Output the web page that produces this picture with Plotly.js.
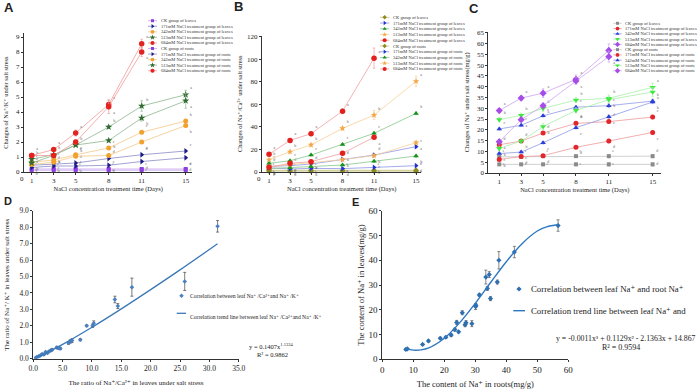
<!DOCTYPE html>
<html><head><meta charset="utf-8">
<script src="https://cdn.plot.ly/plotly-3.0.1.min.js"></script>
<style>html,body{margin:0;padding:0;background:#fff}</style>
</head><body><div id="chart" style="width:700px;height:389px"></div>
<script>
// ---------- data ----------
const days = [1, 3, 5, 8, 11, 15];
const days684 = [1, 3, 5, 8, 11];
const dayTicks = [1, 3, 5, 8, 11, 15];

const legendLabels = [
  'CK group of leaves', '171mM NaCl treatment group of leaves', '342mM NaCl treatment group of leaves',
  '513mM NaCl treatment group of leaves', '684mM NaCl treatment group of leaves',
  'CK group of roots', '171mM NaCl treatment group of roots', '342mM NaCl treatment group of roots',
  '513mM NaCl treatment group of roots', '684mM NaCl treatment group of roots'
];

// significance letters
const sigCK = ['e', 'e', 'e', 'e', 'e', 'd'];
const sig171 = ['d', 'd', 'd', 'd', 'd', 'c'];
const sig342 = ['c', 'c', 'c', 'c', 'c', 'b'];
const sig513 = ['b', 'b', 'b', 'b', 'b', 'a'];
const sig684 = ['a', 'a', 'a', 'a', 'a'];

// Panel A: Na+/K+
const aLeafCK = [0.2, 0.2, 0.2, 0.2, 0.2, 0.2];
const aLeaf171 = [0.45, 0.55, 0.6, 0.9, 1.15, 1.4];
const aLeaf342 = [0.65, 0.8, 1.15, 1.6, 2.65, 3.4];
const aLeaf513 = [0.85, 1.15, 1.8, 3.0, 4.4, 5.15];
const aLeaf684 = [1.1, 1.5, 2.6, 4.5, 8.55];
const aRootCK = [0.12, 0.12, 0.12, 0.12, 0.12, 0.12];
const aRoot171 = [0.3, 0.4, 0.4, 0.45, 0.7, 0.95];
const aRoot342 = [0.5, 0.65, 1.05, 1.1, 2.0, 3.1];
const aRoot513 = [0.6, 1.1, 1.8, 2.1, 3.6, 4.75];
const aRoot684 = [1.1, 1.1, 2.0, 4.35, 8.0];
const aErrSmall = [0.04, 0.04, 0.05, 0.05, 0.06, 0.06];
const aErrLeaf513 = [0.05, 0.08, 0.1, 0.1, 0.35, 0.3];
const aErrRoot513 = [0.05, 0.05, 0.1, 0.1, 0.2, 0.5];
const aErrLeaf684 = [0.08, 0.08, 0.2, 0.3, 0.3];
const aErrRoot684 = [0.08, 0.08, 0.15, 0.45, 0.3];

// Panel B: Na+/Ca2+
const bLeafCK = [1.5, 1.5, 1.5, 1.5, 1.5, 1.5];
const bLeaf171 = [5, 5.6, 7.1, 11.2, 15, 22.5];
const bLeaf342 = [7.7, 10, 15, 24.5, 34.3, 52];
const bLeaf513 = [10.9, 18, 24, 38.7, 50.5, 80.5];
const bLeaf684 = [15.7, 28, 34, 54, 101];
const bRootCK = [0.8, 0.8, 0.8, 0.8, 0.8, 0.8];
const bRoot171 = [3.8, 2.7, 3.2, 3, 4.1, 5.6];
const bRoot342 = [3, 3.8, 4.7, 6.2, 9.5, 14.2];
const bRoot513 = [4.7, 6.5, 8.6, 11, 14.5, 26];
const bRoot684 = [4.2, 7.7, 9.2, 16.6, 30.8];
const bErrSmall = [0.6, 0.6, 0.8, 0.8, 1, 1.2];
const bErrLeaf513 = [1, 1.5, 1.5, 1.5, 4, 4.5];
const bErrLeaf684 = [1, 1, 1.5, 2, 9];
const bErrRoot684 = [0.8, 0.8, 1, 1.2, 1.5];

// Panel C: Na+ content (mg/g)
const cLeafCK = [7.5, 7.5, 7.8, 7.8, 7.8, 7.8];
const cLeaf171 = [13.1, 14.8, 18.5, 23, 23.8, 25.9];
const cLeaf342 = [20.4, 22.1, 26.5, 30.5, 31.2, 33.3];
const cLeaf513 = [24.7, 26.7, 29.9, 33.8, 34.6, 39.7];
const cLeaf684 = [28.9, 34.7, 37, 43.4, 56.8];
const cRootCK = [4, 4, 4, 4, 4, 4];
const cRoot171 = [6.3, 7.6, 8, 11.9, 14.8, 18.8];
const cRoot342 = [9, 9.7, 14, 21, 26, 32.9];
const cRoot513 = [11.4, 14.8, 21.5, 29, 34, 37.5];
const cRoot684 = [14.5, 24.7, 31.2, 42.6, 53.9];
const cErrSmall = [0.5, 0.5, 0.6, 0.6, 0.8, 0.8];
const cErrMid = [1, 1, 1.5, 1.2, 1.5, 2];
const cErrLeaf684 = [1, 1, 2, 2, 3];
const cErrRoot684 = [1, 1, 1, 1.5, 2.5];

// Panel D: leaf Na+/Ca2+ vs Na+/K+
const dX = [0.4, 0.6, 0.9, 1.2, 1.5, 1.8, 2.1, 2.4, 2.7, 3.0, 3.2, 4.0, 4.3, 4.6, 6.0, 6.3, 6.6, 8.0, 9.1, 10.1, 10.3, 13.9, 14.4, 16.8, 25.8, 31.4];
const dY = [0.05, 0.1, 0.14, 0.2, 0.28, 0.25, 0.4, 0.35, 0.45, 0.5, 0.55, 0.68, 0.65, 0.62, 0.95, 1.05, 1.1, 1.15, 2.0, 2.0, 2.15, 3.6, 3.2, 4.35, 4.7, 8.05];
const dErr = [0.02, 0.02, 0.03, 0.03, 0.04, 0.04, 0.05, 0.05, 0.05, 0.06, 0.06, 0.07, 0.07, 0.07, 0.08, 0.1, 0.12, 0.06, 0.05, 0.1, 0.15, 0.2, 0.15, 0.55, 0.55, 0.35];
const dTrendX = [0.5, 2, 5, 10, 15, 20, 25, 31.4];
const dTrendY = [0.06, 0.31, 0.87, 1.91, 3.03, 4.2, 5.4, 6.99];

// Panel E: root Na+ vs leaf Na+
const eX = [7.6, 8.1, 13.0, 14.9, 18.7, 20.5, 22.2, 23.4, 24.0, 24.6, 25.8, 26.7, 27.0, 28.9, 30.1, 30.2, 31.3, 33.4, 33.9, 34.5, 34.9, 37.1, 37.6, 42.6, 56.7];
const eY = [4.0, 4.2, 6.0, 7.4, 8.5, 8.9, 9.8, 12.0, 14.9, 11.1, 18.8, 13.9, 14.8, 14.4, 21.3, 21.8, 26.0, 33.2, 28.6, 34.2, 24.5, 31.2, 40.0, 43.3, 54.0];
const eErr = [0.3, 0.3, 0.3, 0.4, 0.4, 0.4, 0.5, 0.6, 0.8, 0.4, 0.8, 0.7, 0.8, 1.2, 1.2, 0.6, 0.6, 2.8, 0.8, 1.2, 0.8, 0.8, 3.5, 2.3, 2.3];
const eTrendX = [7.5, 10, 12.5, 15, 20, 25, 30, 35, 40, 45, 50, 53, 56.7];
const eTrendY = [4.4, 3.7, 3.8, 4.6, 8.5, 14.8, 22.6, 31.1, 39.4, 46.6, 51.8, 53.5, 54.3];

// ---------- styles ----------
const W = 700, H = 389;
const SERIF = 'Liberation Serif, DejaVu Serif, Times New Roman, serif';
const SANS = 'Liberation Sans, Arial, sans-serif';

const panels = [
  { xa: 'x', ya: 'y',
    series: [aLeafCK, aLeaf171, aLeaf342, aLeaf513, aLeaf684, aRootCK, aRoot171, aRoot342, aRoot513, aRoot684],
    errs: [aErrSmall, aErrSmall, aErrSmall, aErrLeaf513, aErrLeaf684, aErrSmall, aErrSmall, aErrSmall, aErrRoot513, aErrRoot684],
    colors: ['#8e3fe0', '#1c1c86', '#f0a12e', '#2f6a2f', '#e2231f'],
    lineColors: ['#c7a5f0', '#8a8ac8', '#f5c886', '#8fb58f', '#f19a9a'],
    symbols: ['square', 'triangle-right', 'circle', 'star', 'circle'],
    sizes: [4, 5, 5, 5.5, 5.5],
    legend: { x0: 148, x1: 157, y0: 20.7, dy: 5.56 } },
  { xa: 'x2', ya: 'y2',
    series: [bLeafCK, bLeaf171, bLeaf342, bLeaf513, bLeaf684, bRootCK, bRoot171, bRoot342, bRoot513, bRoot684],
    errs: [bErrSmall, bErrSmall, bErrSmall, bErrLeaf513, bErrLeaf684, bErrSmall, bErrSmall, bErrSmall, bErrSmall, bErrRoot684],
    colors: ['#8d8a1e', '#1f2fd0', '#17901c', '#f3a643', '#e3201e'],
    lineColors: ['#c7c47a', '#8e96e6', '#86c78a', '#f7cf98', '#f0a0a0'],
    symbols: ['diamond', 'triangle-right', 'triangle-up', 'star', 'circle'],
    sizes: [4.5, 5, 5, 5, 5.5],
    legend: { x0: 380, x1: 389.3, y0: 17.3, dy: 5.74 } },
  { xa: 'x3', ya: 'y3',
    series: [cLeafCK, cLeaf171, cLeaf342, cLeaf513, cLeaf684, cRootCK, cRoot171, cRoot342, cRoot513, cRoot684],
    errs: [cErrSmall, cErrSmall, cErrSmall, cErrMid, cErrLeaf684, cErrSmall, cErrSmall, cErrSmall, cErrMid, cErrRoot684],
    colors: ['#8b8b8b', '#e3262b', '#2b3fd6', '#3fe83f', '#a64de8'],
    lineColors: ['#c4c4c4', '#ec9a9a', '#8f9ae6', '#a8f0a8', '#cda4f0'],
    symbols: ['square', 'circle', 'triangle-up', 'triangle-down', 'diamond'],
    sizes: [4, 5, 5, 5.5, 5.5],
    legend: { x0: 613.3, x1: 621.7, y0: 23.3, dy: 5.27 } }
];
const sigSets = [sigCK, sig171, sig342, sig513, sig684];
const sigPos = ['top right', 'top right', 'top right', 'top right', 'top right',
                'middle right', 'bottom right', 'bottom right', 'bottom right', 'bottom right'];

const traces = [];
const annotations = [];

panels.forEach(p => {
  p.series.forEach((s, i) => {
    const k = i % 5;
    traces.push({
      type: 'scatter', mode: 'lines+markers+text',
      x: s.length === days684.length ? days684 : days, y: s,
      xaxis: p.xa, yaxis: p.ya,
      text: sigSets[k], textposition: sigPos[i],
      textfont: { family: SERIF, size: 4, color: '#666' },
      line: { color: p.lineColors[k], width: 0.8 },
      marker: { symbol: p.symbols[k], size: p.sizes[k], color: p.colors[k], line: { width: 0 } },
      error_y: { type: 'data', array: p.errs[i], visible: true, color: p.lineColors[k], thickness: 0.7, width: 1.2 },
      cliponaxis: false, showlegend: false, hoverinfo: 'skip'
    });
  });
  const lg = p.legend;
  legendLabels.forEach((lab, i) => {
    const k = i % 5;
    const yy = lg.y0 + i * lg.dy;
    traces.push({
      type: 'scatter', mode: 'lines', xaxis: 'x6', yaxis: 'y6',
      x: [lg.x0, lg.x1], y: [yy, yy],
      line: { color: p.lineColors[k], width: 0.8 },
      cliponaxis: false, showlegend: false, hoverinfo: 'skip'
    });
    traces.push({
      type: 'scatter', mode: 'markers', xaxis: 'x6', yaxis: 'y6',
      x: [(lg.x0 + lg.x1) / 2], y: [yy],
      marker: { symbol: p.symbols[k], size: p.sizes[k] * 0.75, color: p.colors[k], line: { width: 0 } },
      cliponaxis: false, showlegend: false, hoverinfo: 'skip'
    });
    annotations.push({ xref: 'paper', yref: 'paper', x: (lg.x1 + 1.5) / W, y: 1 - yy / H,
      xanchor: 'left', yanchor: 'middle', showarrow: false, text: lab,
      font: { family: SERIF, size: 4.5, color: '#333' } });
  });
});

// Panel D
traces.push({ type: 'scatter', mode: 'markers', x: dX, y: dY, xaxis: 'x4', yaxis: 'y4',
  marker: { symbol: 'diamond', size: 3.5, color: '#4a7fc0' },
  error_y: { type: 'data', array: dErr, visible: true, color: '#444', thickness: 0.7, width: 1.5 },
  showlegend: false, hoverinfo: 'skip' });
traces.push({ type: 'scatter', mode: 'lines', x: dTrendX, y: dTrendY, xaxis: 'x4', yaxis: 'y4',
  line: { color: '#3a78b8', width: 1.3, shape: 'spline' }, showlegend: false, hoverinfo: 'skip' });
// Panel E
traces.push({ type: 'scatter', mode: 'markers', x: eX, y: eY, xaxis: 'x5', yaxis: 'y5',
  marker: { symbol: 'diamond', size: 4, color: '#2f6fb0' },
  error_y: { type: 'data', array: eErr, visible: true, color: '#555', thickness: 0.7, width: 1.5 },
  showlegend: false, hoverinfo: 'skip' });
traces.push({ type: 'scatter', mode: 'lines', x: eTrendX, y: eTrendY, xaxis: 'x5', yaxis: 'y5',
  line: { color: '#2f78c0', width: 1.4, shape: 'spline' }, showlegend: false, hoverinfo: 'skip' });

// D / E legend glyphs
traces.push({ type: 'scatter', mode: 'markers', x: [181.5], y: [295.7], xaxis: 'x6', yaxis: 'y6',
  marker: { symbol: 'diamond', size: 3.5, color: '#4a7fc0' }, showlegend: false, hoverinfo: 'skip' });
traces.push({ type: 'scatter', mode: 'lines', x: [176.7, 186], y: [313.3, 313.3], xaxis: 'x6', yaxis: 'y6',
  line: { color: '#3a78b8', width: 1.3 }, showlegend: false, hoverinfo: 'skip' });
traces.push({ type: 'scatter', mode: 'markers', x: [519], y: [289], xaxis: 'x6', yaxis: 'y6',
  marker: { symbol: 'diamond', size: 4, color: '#2f6fb0' }, showlegend: false, hoverinfo: 'skip' });
traces.push({ type: 'scatter', mode: 'lines', x: [513.3, 525], y: [310.7, 310.7], xaxis: 'x6', yaxis: 'y6',
  line: { color: '#2f78c0', width: 1.4 }, showlegend: false, hoverinfo: 'skip' });

function ann(px, py, text, size, anchor, family) {
  annotations.push({ xref: 'paper', yref: 'paper', x: px / W, y: 1 - py / H, text: text,
    xanchor: anchor || 'left', yanchor: 'middle', showarrow: false,
    font: { family: family || SERIF, size: size, color: '#222' } });
}
ann(188.3, 296, 'Correlation between leaf Na⁺ /Ca²⁺and Na⁺ /K⁺', 5.6);
ann(188.3, 317, 'Correlation trend line between leaf Na⁺ /Ca²⁺and Na⁺ /K⁺', 5.6);
ann(246.7, 345.5, 'y = 0.1407x<sup>1.1334</sup>', 6.5);
ann(272.5, 354, 'R² = 0.9862', 6.5, 'center');
ann(529.3, 289, 'Correlation between leaf Na⁺ and root Na⁺', 8.8);
ann(529.3, 310.7, 'Correlation trend line between leaf Na⁺ and', 8.8);
ann(698, 338.5, 'y = -0.0011x³ + 0.1129x² - 2.1363x + 14.867', 7.8, 'right');
ann(621, 347, 'R² = 0.9594', 8, 'center');
ann(21.7, 178.5, '0', 7, 'center');
ann(259.3, 178.5, '0', 7, 'center');
ann(1.5, 7.5, '<b>A</b>', 13, 'left', SANS);
ann(231.5, 7, '<b>B</b>', 13, 'left', SANS);
ann(466.5, 8.5, '<b>C</b>', 13, 'left', SANS);
ann(1.5, 201, '<b>D</b>', 11, 'left', SANS);
ann(349.5, 202, '<b>E</b>', 11, 'left', SANS);

// ---------- axes ----------
function ax(extra) {
  return Object.assign({ showgrid: false, zeroline: false, showline: true, linecolor: '#333', linewidth: 1,
    ticks: 'outside', ticklen: 2, tickwidth: 1, tickcolor: '#333', fixedrange: true,
    tickfont: { family: SERIF, size: 7, color: '#222' } }, extra);
}
function px2x(a, b) { return [a / W, b / W]; }
function px2y(top, bottom) { return [1 - bottom / H, 1 - top / H]; }
const xTitle = (t, s, size) => ({ text: t, standoff: s, font: { family: SERIF, size: size, color: '#222' } });

const layout = {
  width: W, height: H, margin: { l: 0, r: 0, t: 0, b: 0 },
  paper_bgcolor: '#fff', plot_bgcolor: 'rgba(0,0,0,0)', showlegend: false,
  annotations: annotations,
  xaxis: ax({ domain: px2x(24, 192.3), range: [0.3, 15.6], anchor: 'y', tickvals: dayTicks,
    title: xTitle('NaCl concentration treatment time (Days)', 1, 6.5) }),
  yaxis: ax({ domain: px2y(33.25, 172), range: [0, 9.25], anchor: 'x', tickvals: [0,1,2,3,4,5,6,7,8,9],
    title: xTitle('Changes of Na⁺/K⁺ under salt stress', 6, 6.3) }),
  xaxis2: ax({ domain: px2x(262, 421.3), range: [0.33, 15.5], anchor: 'y2', tickvals: dayTicks,
    title: xTitle('NaCl concentration treatment time (Days)', 1, 6.5) }),
  yaxis2: ax({ domain: px2y(35.6, 172), range: [0, 121], anchor: 'x2', tickvals: [0,20,40,60,80,100,120],
    title: xTitle('Changes of Na⁺/Ca²⁺ under salt stress', 3, 6.3) }),
  xaxis3: ax({ domain: px2x(488.3, 661.4), range: [0, 15.8], anchor: 'y3', tickvals: dayTicks,
    title: xTitle('NaCl concentration treatment time (Days)', 1, 6.5) }),
  yaxis3: ax({ domain: px2y(31.6, 173), range: [0, 65.5], anchor: 'x3', dtick: 5, tick0: 0,
    title: xTitle('Changes of Na⁺ under salt stress(mg/g)', 6, 6.3) }),
  xaxis4: ax({ domain: px2x(33.3, 238.7), range: [0, 35], anchor: 'y4', dtick: 5, tickformat: '.1f',
    tickfont: { family: SERIF, size: 7.5, color: '#222' },
    title: xTitle('The ratio of Na⁺/Ca²⁺ in leaves under salt stress', 8, 7) }),
  yaxis4: ax({ domain: px2y(210.7, 358.7), range: [0, 9], anchor: 'x4', dtick: 1, tickformat: '.1f',
    tickfont: { family: SERIF, size: 7.5, color: '#222' },
    title: xTitle('The ratio of Na⁺/ K⁺ in leaves under salt stress', 8, 7) }),
  xaxis5: ax({ domain: px2x(382.3, 568.3), range: [0, 60], anchor: 'y5', dtick: 10,
    tickfont: { family: SERIF, size: 9, color: '#222' },
    title: xTitle('The content of Na⁺ in roots(mg/g)', 6, 8.5) }),
  yaxis5: ax({ domain: px2y(210.7, 359.3), range: [0, 60], anchor: 'x5', dtick: 10,
    tickfont: { family: SERIF, size: 9, color: '#222' },
    title: xTitle('The content of Na⁺ in leaves(mg/g)', 2, 8.5) }),
  xaxis6: { domain: [0, 1], range: [0, W], anchor: 'y6', visible: false, fixedrange: true },
  yaxis6: { domain: [0, 1], range: [H, 0], anchor: 'x6', visible: false, fixedrange: true }
};

Plotly.newPlot('chart', traces, layout, { displayModeBar: false, staticPlot: true });
</script>
</body></html>
